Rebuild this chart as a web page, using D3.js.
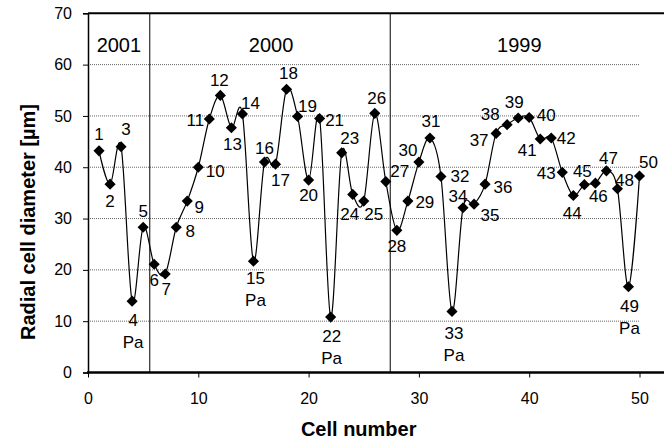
<!DOCTYPE html>
<html><head><meta charset="utf-8">
<script src="https://cdn.jsdelivr.net/npm/d3@7"></script>
<style>body{margin:0;background:#fff}svg{font-family:"Liberation Sans",Arial,sans-serif}</style>
</head><body><svg id="c" width="664" height="440"></svg>
<script>
const cells = d3.range(1, 51);
const diameters = [43.2,36.7,44.0,13.9,28.3,21.1,19.2,28.3,33.4,40.0,
  49.4,54.0,47.7,50.4,21.7,41.0,40.6,55.2,49.9,37.5,
  49.5,10.8,42.8,34.7,33.4,50.5,37.2,27.7,33.4,41.0,
  45.7,38.2,11.9,32.1,32.8,36.7,46.6,48.3,49.6,49.7,
  45.5,45.7,39.0,34.5,36.6,36.9,39.3,35.8,16.7,38.3];
const paCells = [4, 15, 22, 33, 49];
const yearLabels = ["2001", "2000", "1999"];
const yearCenters = [2.8, 16.6, 39.1];
const yearBounds = [5.6, 27.4];
const yTicks = [0,10,20,30,40,50,60,70];
const xTicks = [0,10,20,30,40,50];
// label centre offsets in px relative to each marker (layout only)
const labelOffsets = [
  [0,-17],[0,17],[5,-18],[1,19],[0,-16],[0,16],[1,15],[14,4],[12,6],[17,4],
  [-14,1],[-1,-16],[1,16],[8,-11],[2,17],[0,-14],[5,16],[2,-16],[10,-11],[0,15],
  [15,1],[1,19],[8,-15],[-3,19],[10,13],[2,-15],[14,-11],[0,16],[17,1],[-11,-12],
  [1,-17],[19,-1],[2,21],[-5,-12],[16,11],[18,3],[-17,7],[-17,-11],[-4,-16],[17,-3],
  [-13,11],[15,0],[-16,1],[-1,17],[-2,-14],[3,13],[2,-13],[7,-9],[1,19],[9,-14]];

const svg = d3.select("#c");
const x = d3.scaleLinear().domain([0, 50]).range([88, 639.5]);
const y = d3.scaleLinear().domain([0, 70]).range([372.5, 13.3]);
const FONT = "Liberation Sans, Arial, sans-serif";

// gridlines
svg.append("g").selectAll("line").data(yTicks.filter(t => t > 0 && t < 70)).join("line")
  .attr("x1", x(0)).attr("x2", x(50)).attr("y1", d => y(d)).attr("y2", d => y(d))
  .attr("stroke", "#666").attr("stroke-width", 1).attr("stroke-dasharray", "1,1");

// year boundary lines
svg.append("g").selectAll("line").data(yearBounds).join("line")
  .attr("x1", d => x(d)).attr("x2", d => x(d)).attr("y1", y(70)).attr("y2", y(0))
  .attr("stroke", "#000").attr("stroke-width", 1);

// top border
svg.append("line").attr("x1", x(0)).attr("x2", 664).attr("y1", y(70)).attr("y2", y(70))
  .attr("stroke", "#000").attr("stroke-width", 2);

// axes
const yAxis = svg.append("g").attr("transform", `translate(${x(0)},0)`)
  .call(d3.axisLeft(y).tickValues(yTicks).tickSize(5).tickPadding(11));
yAxis.select(".domain").attr("stroke-width", 1.5);
yAxis.selectAll("text").attr("font-size", 16).attr("font-family", FONT);

const xAxis = svg.append("g").attr("transform", `translate(0,${y(0)})`)
  .call(d3.axisBottom(x).tickValues(xTicks).tickSize(5).tickPadding(15));
xAxis.select(".domain").remove();
xAxis.selectAll("text").attr("font-size", 16).attr("font-family", FONT);
svg.append("line").attr("x1", x(0) - 1).attr("x2", 664).attr("y1", y(0)).attr("y2", y(0))
  .attr("stroke", "#000").attr("stroke-width", 2.5);

// line
const pts = cells.map((c, i) => [c, diameters[i]]);
svg.append("path").datum(pts)
  .attr("d", d3.line().x(d => x(d[0])).y(d => y(d[1])).curve(d3.curveCatmullRom.alpha(0)))
  .attr("fill", "none").attr("stroke", "#000").attr("stroke-width", 1.2);

// markers
svg.append("g").selectAll("path").data(pts).join("path")
  .attr("d", d3.symbol(d3.symbolSquare, 62))
  .attr("transform", d => `translate(${x(d[0])},${y(d[1])}) rotate(45)`)
  .attr("fill", "#000");

// labels
const LFS = 17;
const lab = svg.append("g").attr("font-size", LFS).attr("fill", "#000").attr("text-anchor", "middle");
pts.forEach((d, i) => {
  const o = labelOffsets[i];
  lab.append("text").attr("x", x(d[0]) + o[0]).attr("y", y(d[1]) + o[1] + 0.36 * LFS).text(d[0]);
  if (paCells.includes(d[0])) {
    lab.append("text").attr("x", x(d[0]) + o[0]).attr("y", y(d[1]) + o[1] + 22 + 0.36 * LFS).text("Pa");
  }
});

// year labels
svg.append("g").selectAll("text").data(yearLabels).join("text")
  .attr("x", (d, i) => x(yearCenters[i])).attr("y", 51.5).attr("text-anchor", "middle")
  .attr("font-size", 20).text(d => d);

// titles
svg.append("text").attr("x", 358.7).attr("y", 436).attr("text-anchor", "middle")
  .attr("font-size", 20).attr("font-weight", "bold").text("Cell number");
svg.append("text").attr("transform", "translate(34.5,222) rotate(-90)").attr("text-anchor", "middle")
  .attr("font-size", 20).attr("font-weight", "bold").text("Radial cell diameter [µm]");
</script></body></html>
